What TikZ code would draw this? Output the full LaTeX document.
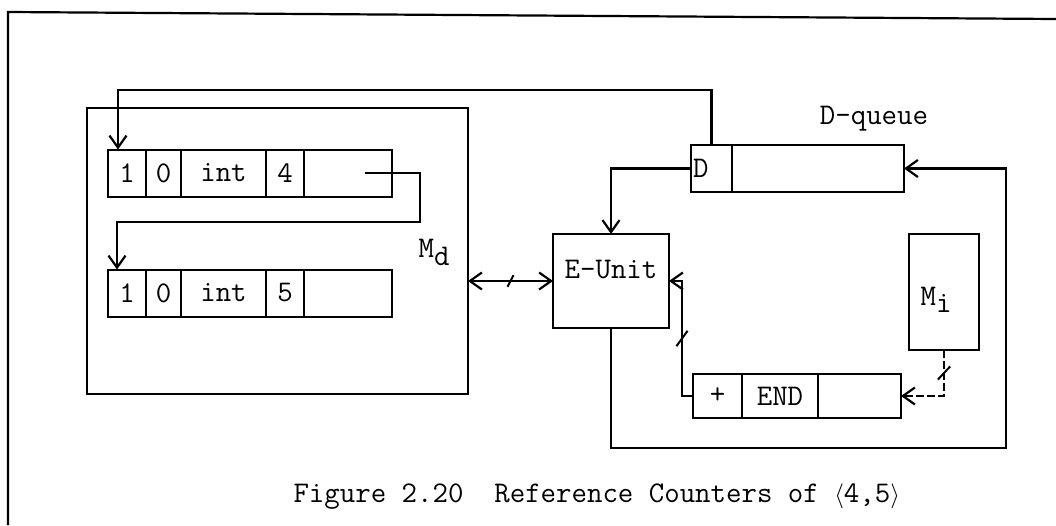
\documentclass[tikz,border=0pt]{standalone}
\usepackage{amsmath}
\usepackage{tikz}
\usetikzlibrary{positioning,arrows.meta}
\newcommand{\figfont}{\fontsize{30}{36}\selectfont\ttfamily}

\begin{document}
\begin{tikzpicture}[x=1pt,y=-1pt,
    every node/.style={font=\figfont},
    lines/.style={line width=2.2pt},
    >={Straight Barb[length=12pt,width=17pt]},
    cell/.style={draw,line width=2pt,inner sep=0pt,outer sep=0pt,minimum height=47pt},
    blockbox/.style={draw,lines,inner sep=0pt,outer sep=0pt},
    crossmark/.style={draw,solid,line width=2pt,inner sep=0pt,outer sep=0pt,minimum width=0pt,minimum height=#1},
    crossmark/.default=16pt]
    \useasboundingbox (0,0) rectangle (1056,525);
    % Outer frame
    \draw[lines] (8,525) -- (8,12) -- (1056,19);
    % Data memory M_d
    \node[blockbox,minimum width=381pt,minimum height=286pt] (md) at (277.5,251) {};
    \node (mdlabel) at (434,252) {M\raisebox{-8pt}{d}};
    % First record
    \node[cell,minimum width=38pt] (a1) at (127,173) {1};
    \node[cell,minimum width=35pt,right=0pt of a1] (a2) {0};
    \node[cell,minimum width=85pt,right=0pt of a2] (a3) {int};
    \node[cell,minimum width=38pt,right=0pt of a3] (a4) {4};
    \node[cell,minimum width=88pt,right=0pt of a4] (a5) {};
    % Second record
    \node[cell,minimum width=38pt] (b1) at (127,293) {1};
    \node[cell,minimum width=35pt,right=0pt of b1] (b2) {0};
    \node[cell,minimum width=85pt,right=0pt of b2] (b3) {int};
    \node[cell,minimum width=38pt,right=0pt of b3] (b4) {5};
    \node[cell,minimum width=88pt,right=0pt of b4] (b5) {};
    % D-queue
    \node[cell,minimum width=41pt] (dq1) at (711.5,168.5) {};
    \node[cell,minimum width=172pt,right=0pt of dq1] (dq2) {};
    \node[anchor=west,inner sep=2pt] (dtext) at (dq1.west) {D};
    \node (dqlabel) at (874,119) {D-queue};
    % E-Unit and M_i
    \node[blockbox,minimum width=116pt,minimum height=94pt] (eunit) at (611,281) {};
    \node (eutext) at (611,270) {E-Unit};
    \node[blockbox,minimum width=70pt,minimum height=116pt] (mi) at (944,292) {};
    \node (mitext) at (936,300) {M\raisebox{-7pt}{i}};
    % END record
    \node[cell,minimum width=49pt,minimum height=44pt] (e1) at (717.5,396) {+};
    \node[cell,minimum width=76pt,minimum height=44pt,right=0pt of e1] (e2) {END};
    \node[cell,minimum width=83pt,minimum height=44pt,right=0pt of e2] (e3) {};
    % Connectors
    \draw[->,lines] (dq1.north) -- ++(0,-55) -| ([xshift=-9pt]a1.north);
    \draw[->,lines] ([xshift=17pt]a5.center) -- ++(55,0) -- ++(0,49) -| ([xshift=-10pt]b1.north);
    \draw[<->,lines] (md.east |- eunit.west) -- node[crossmark=13pt,rotate=-27]{} (eunit.west);
    \draw[->,lines] (dq1.west) -| (eunit.north);
    \draw[->,lines] (eunit.south) -- ++(0,120) -| ([xshift=102pt]dq2.east) -- (dq2.east);
    \draw[->,lines,dash pattern=on 8pt off 3pt] (mi.south) |- node[pos=0.25,crossmark=18pt,rotate=-43]{} (e3.east);
    \draw[->,lines] (e1.west) -- ++(-11,0) |- node[pos=0.25,crossmark=19pt,rotate=-36]{} (eunit.east);
    % Caption
    \node[anchor=base west] (caption) at (290,502) {Figure 2.20\ \ Reference Counters of $\langle$4,5$\rangle$};
\end{tikzpicture}
\end{document}
